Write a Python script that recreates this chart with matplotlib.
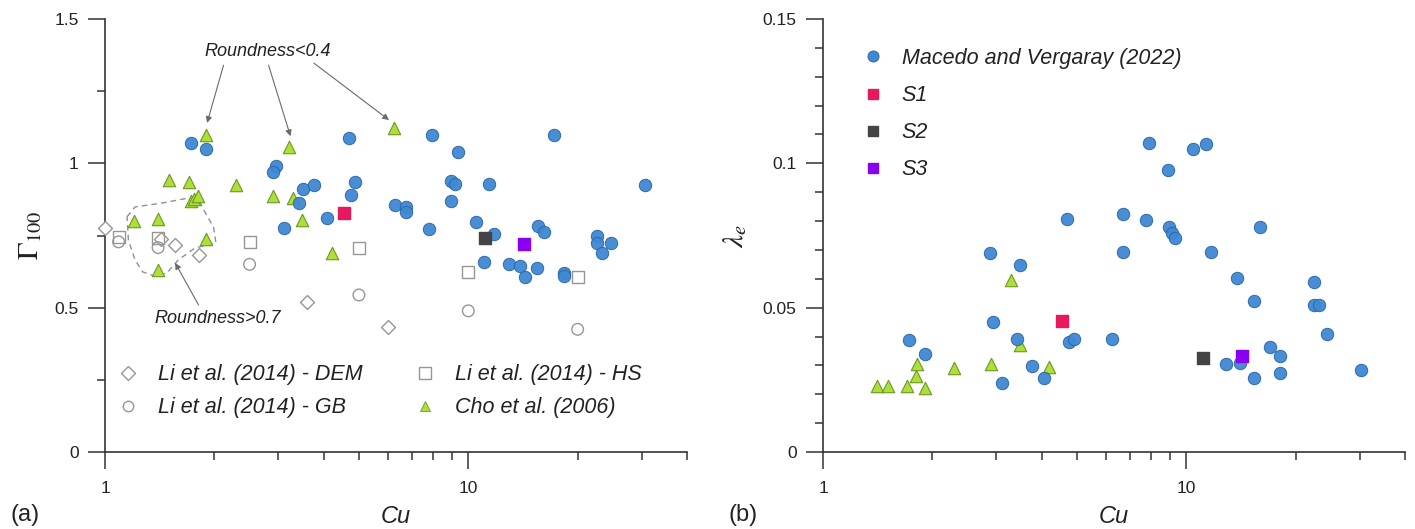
import matplotlib
matplotlib.use("Agg")
import matplotlib.pyplot as plt
from matplotlib.lines import Line2D
from matplotlib.ticker import FixedLocator, FuncFormatter

plt.rcParams['font.family'] = ['Liberation Sans', 'DejaVu Sans']
plt.rcParams['mathtext.fontset'] = 'stix'

# ---- panel (a): Gamma_100 vs Cu ----
mv_cu_a = [1.72, 1.90, 2.95, 2.90, 3.50, 3.76, 3.43, 3.11, 4.08, 4.70, 4.88, 4.76,
           7.94, 9.38, 17.2, 6.30, 6.74, 6.74, 8.98, 9.20, 11.4, 30.7, 8.94, 7.80,
           10.5, 11.8, 11.07, 12.95, 13.9, 14.3, 15.5, 15.6, 16.2, 18.3, 18.3,
           22.6, 22.6, 24.7, 23.3]
mv_gamma = [1.070, 1.048, 0.992, 0.969, 0.912, 0.924, 0.861, 0.776, 0.811, 1.088, 0.935, 0.890,
            1.098, 1.038, 1.098, 0.855, 0.848, 0.832, 0.940, 0.930, 0.930, 0.925, 0.870, 0.771,
            0.796, 0.756, 0.659, 0.650, 0.645, 0.607, 0.636, 0.784, 0.761, 0.619, 0.610,
            0.748, 0.725, 0.723, 0.690]

cho_cu_a = [1.90, 3.20, 6.23, 1.50, 1.70, 2.30, 1.72, 1.76, 1.80, 2.90, 3.29, 3.49,
            1.20, 1.40, 1.90, 1.40, 4.21]
cho_gamma = [1.098, 1.058, 1.121, 0.942, 0.936, 0.925, 0.870, 0.878, 0.887, 0.887, 0.879, 0.804,
             0.801, 0.806, 0.737, 0.630, 0.690]

dem_cu = [1.00, 1.43, 1.56, 1.82, 3.60, 6.02]
dem_gamma = [0.777, 0.738, 0.717, 0.682, 0.518, 0.434]
gb_cu = [1.09, 1.40, 2.50, 5.00, 10.0, 20.0]
gb_gamma = [0.728, 0.708, 0.650, 0.544, 0.489, 0.425]
hs_cu = [1.09, 1.40, 2.50, 5.00, 10.0, 20.0]
hs_gamma = [0.746, 0.742, 0.726, 0.706, 0.622, 0.607]

sample_names = ['S1', 'S2', 'S3']
sample_cu = [4.54, 11.1, 14.2]
sample_gamma = [0.829, 0.742, 0.719]
sample_lambda = [0.0454, 0.0327, 0.0333]
sample_colors = ['#e8185e', '#444444', '#8a00f0']

# outline of the well-rounded (Roundness>0.7) group, in (Cu, Gamma)
round_cu = [1.15, 1.21, 1.43, 1.70, 1.83, 1.89, 1.99, 2.02, 1.77, 1.59, 1.49, 1.39,
            1.27, 1.21, 1.16, 1.15]
round_gamma = [0.815, 0.849, 0.862, 0.880, 0.862, 0.828, 0.779, 0.724, 0.707, 0.665,
               0.624, 0.607, 0.624, 0.665, 0.734, 0.815]

# ---- panel (b): lambda_e vs Cu ----
mv_cu_b = [1.72, 1.91, 2.89, 3.48, 2.94, 3.41, 3.11, 3.75, 4.07, 4.69, 4.75, 4.90, 6.25,
           7.91, 10.45, 11.3, 8.89, 6.71, 7.75, 8.94, 9.14, 9.33, 15.97, 6.71, 11.7,
           13.8, 15.4, 22.5, 22.5, 23.2, 24.4, 17.0, 18.1, 12.85, 14.1, 15.4, 18.1, 30.3]
mv_lambda = [0.0388, 0.0340, 0.0690, 0.0648, 0.0451, 0.0391, 0.0238, 0.0298, 0.0255, 0.0807,
             0.0382, 0.0390, 0.0390, 0.1071, 0.1048, 0.1067, 0.0977, 0.0823, 0.0804, 0.0780,
             0.0758, 0.0740, 0.0780, 0.0694, 0.0692, 0.0602, 0.0523, 0.0588, 0.0509, 0.0509,
             0.0409, 0.0365, 0.0334, 0.0304, 0.0309, 0.0255, 0.0273, 0.0284]
cho_cu_b = [1.41, 1.51, 1.70, 1.80, 1.81, 1.91, 2.30, 2.90, 3.30, 3.49, 4.20]
cho_lambda = [0.0229, 0.0229, 0.0229, 0.0263, 0.0305, 0.0223, 0.0290, 0.0305, 0.0596,
              0.0371, 0.0296]

x_major = [1, 10]
x_minor = [2, 3, 4, 5, 6, 7, 8, 9, 20, 30, 40]

BLUE = '#3f88d2'
BLUE_EDGE = '#2a66aa'
GREEN = '#aede3a'
GREEN_EDGE = '#6b9a22'
GREY = '#969696'
AXC = '#333333'

fig = plt.figure(figsize=(14.15, 5.29), dpi=100)
W, H = 1415.0, 529.0
ax1 = fig.add_axes([105 / W, 77 / H, 582 / W, 433 / H])
ax2 = fig.add_axes([823 / W, 77 / H, 582 / W, 433 / H])


def style_axes(ax, ymax, ystep, yminor):
    ax.set_xscale('log')
    ax.set_xlim(1, 40)
    ax.set_ylim(0, ymax)
    for s in ['top', 'right']:
        ax.spines[s].set_visible(False)
    for s in ['left', 'bottom']:
        ax.spines[s].set_color(AXC)
        ax.spines[s].set_linewidth(1.2)
    ax.xaxis.set_major_locator(FixedLocator(x_major))
    ax.xaxis.set_minor_locator(FixedLocator(x_minor))
    ax.xaxis.set_major_formatter(FuncFormatter(lambda v, p: '%g' % v))
    ax.xaxis.set_minor_formatter(FuncFormatter(lambda v, p: ''))
    yt = [round(i * ystep, 4) for i in range(int(round(ymax / ystep)) + 1)]
    ax.yaxis.set_major_locator(FixedLocator(yt))
    ax.yaxis.set_minor_locator(FixedLocator(yminor))
    ax.yaxis.set_major_formatter(FuncFormatter(lambda v, p: '%g' % round(v, 4)))
    ax.tick_params(which='major', direction='out', length=12, width=1.1, color=AXC,
                   labelsize=12.5, labelcolor='#222222')
    ax.tick_params(which='minor', direction='out', length=6, width=1.1, color=AXC)
    ax.tick_params(axis='x', which='major', pad=9)
    ax.tick_params(axis='y', which='major', pad=7)
    ax.set_xlabel('Cu', fontsize=17, style='italic', color='#222222')
    ax.xaxis.set_label_coords(0.5, -0.15)
    ax.xaxis.label.set_va('center')


style_axes(ax1, 1.5, 0.5, [0.25, 0.75, 1.25])
style_axes(ax2, 0.15, 0.05, [0.01, 0.02, 0.03, 0.04, 0.06, 0.07, 0.08, 0.09,
                             0.11, 0.12, 0.13, 0.14])

# ---- panel (a) marks ----
ax1.plot(round_cu, round_gamma, ls=(0, (4, 3)), color='#8a90a4', lw=1.0, zorder=2)
ax1.scatter(dem_cu, dem_gamma, marker='D', s=50, facecolor='white', edgecolor=GREY,
            linewidth=1.0, zorder=3, clip_on=False)
ax1.scatter(gb_cu, gb_gamma, marker='o', s=70, facecolor='none', edgecolor=GREY,
            linewidth=1.0, zorder=3, clip_on=False)
ax1.scatter(hs_cu, hs_gamma, marker='s', s=75, facecolor='none', edgecolor=GREY,
            linewidth=1.0, zorder=3, clip_on=False)
ax1.scatter(cho_cu_a, cho_gamma, marker='^', s=80, facecolor=GREEN, edgecolor=GREEN_EDGE,
            linewidth=0.8, zorder=4)
ax1.scatter(mv_cu_a, mv_gamma, marker='o', s=80, facecolor=BLUE, edgecolor=BLUE_EDGE,
            linewidth=0.7, alpha=0.95, zorder=5)
for c, g, col in zip(sample_cu, sample_gamma, sample_colors):
    ax1.scatter([c], [g], marker='s', s=80, facecolor=col, edgecolor=col, zorder=6)

ax1.set_ylabel(r'$\Gamma_{100}$', fontsize=21, color='#222222')
ax1.yaxis.set_label_coords(-0.129, 0.5)
ax1.yaxis.label.set_va('center')

# annotations
arrow_kw = dict(arrowstyle='-|>', color='#6a6a6a', lw=0.8, mutation_scale=9,
                shrinkA=0, shrinkB=0)
ax1.text(2.80, 1.386, 'Roundness<0.4', fontsize=13, style='italic', ha='center',
         va='center', color='#222222')
for start, end in [((2.12, 1.340), (1.91, 1.140)),
                   ((2.82, 1.340), (3.24, 1.094)),
                   ((3.76, 1.347), (6.05, 1.150))]:
    ax1.annotate('', xy=end, xytext=start, arrowprops=arrow_kw)
ax1.text(2.04, 0.464, 'Roundness>0.7', fontsize=13, style='italic', ha='center',
         va='center', color='#222222')
ax1.annotate('', xy=(1.56, 0.655), xytext=(1.81, 0.509), arrowprops=arrow_kw)

handles_a = [
    Line2D([], [], ls='none', marker='D', ms=7.5, mfc='white', mec=GREY, mew=1.0),
    Line2D([], [], ls='none', marker='o', ms=7.5, mfc='white', mec=GREY, mew=1.0),
    Line2D([], [], ls='none', marker='s', ms=8, mfc='white', mec=GREY, mew=1.0),
    Line2D([], [], ls='none', marker='^', ms=7, mfc=GREEN, mec=GREEN_EDGE, mew=0.6),
]
labels_a = ['Li et al. (2014) - DEM', 'Li et al. (2014) - GB',
            'Li et al. (2014) - HS', 'Cho et al. (2006)']
ax1.legend(handles_a, labels_a, ncol=2, loc='upper left', bbox_to_anchor=(0.021, 0.203),
           frameon=False, borderpad=0, borderaxespad=0, handlelength=1.0,
           handletextpad=0.9, columnspacing=2.4, labelspacing=0.57,
           prop={'size': 15.5, 'style': 'italic'}, labelcolor='#222222')

# ---- panel (b) marks ----
ax2.scatter(cho_cu_b, cho_lambda, marker='^', s=80, facecolor=GREEN, edgecolor=GREEN_EDGE,
            linewidth=0.8, zorder=4)
ax2.scatter(mv_cu_b, mv_lambda, marker='o', s=80, facecolor=BLUE, edgecolor=BLUE_EDGE,
            linewidth=0.7, alpha=0.95, zorder=5)
for c, l, col in zip(sample_cu, sample_lambda, sample_colors):
    ax2.scatter([c], [l], marker='s', s=80, facecolor=col, edgecolor=col, zorder=6)

ax2.set_ylabel(r'$\lambda_e$', fontsize=21, color='#222222')
ax2.yaxis.set_label_coords(-0.151, 0.5)
ax2.yaxis.label.set_va('center')

handles_b = [Line2D([], [], ls='none', marker='o', ms=8, mfc=BLUE, mec=BLUE_EDGE, mew=0.6)]
handles_b += [Line2D([], [], ls='none', marker='s', ms=7, mfc=c, mec=c) for c in sample_colors]
labels_b = ['Macedo and Vergaray (2022)'] + sample_names
ax2.legend(handles_b, labels_b, loc='upper left', bbox_to_anchor=(0.067, 0.933),
           frameon=False, borderpad=0, borderaxespad=0, handlelength=1.0,
           handletextpad=0.85, labelspacing=0.75,
           prop={'size': 15.5, 'style': 'italic'}, labelcolor='#222222')

fig.text(10 / W, 1 - 515 / H, '(a)', fontsize=17, va='center', ha='left', color='#222222')
fig.text(728 / W, 1 - 515 / H, '(b)', fontsize=17, va='center', ha='left', color='#222222')

fig.savefig('out.png', dpi=100, facecolor='white')
